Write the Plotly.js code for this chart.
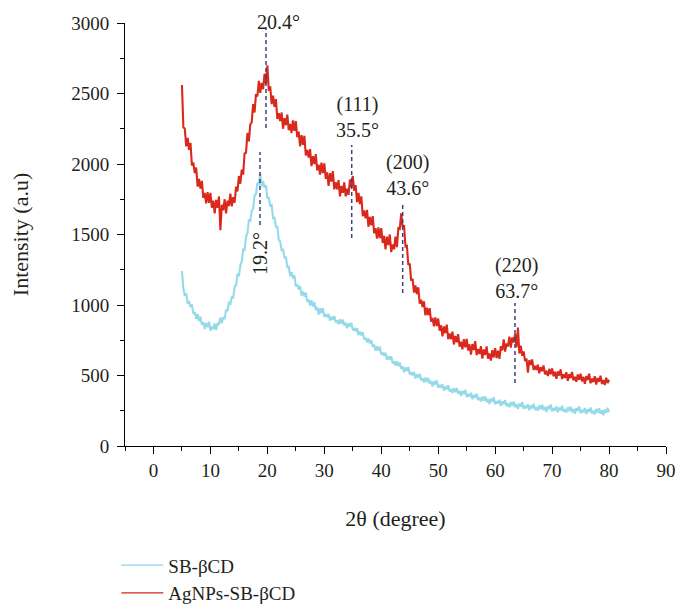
<!DOCTYPE html>
<html>
<head>
<meta charset="utf-8">
<script src="https://cdn.plot.ly/plotly-3.0.1.min.js"></script>
<style>html,body{margin:0;padding:0;background:#fff;}#chart{width:677px;height:607px;}</style>
</head>
<body>
<div id="chart"></div>
<script>
// 2-theta positions (degree)
const twoTheta = [
5,5.25,5.5,5.75,6,6.25,6.5,6.75,7,7.25,7.5,7.75,8,8.25,8.5,8.75,9,9.25,9.5,9.75,
10,10.25,10.5,10.75,11,11.25,11.5,11.75,12,12.25,12.5,12.75,13,13.25,13.5,13.75,14,14.25,14.5,14.75,
15,15.25,15.5,15.75,16,16.25,16.5,16.75,17,17.25,17.5,17.75,18,18.25,18.5,18.75,19,19.25,19.5,19.75,
20,20.25,20.5,20.75,21,21.25,21.5,21.75,22,22.25,22.5,22.75,23,23.25,23.5,23.75,24,24.25,24.5,24.75,
25,25.25,25.5,25.75,26,26.25,26.5,26.75,27,27.25,27.5,27.75,28,28.25,28.5,28.75,29,29.25,29.5,29.75,
30,30.25,30.5,30.75,31,31.25,31.5,31.75,32,32.25,32.5,32.75,33,33.25,33.5,33.75,34,34.25,34.5,34.75,
35,35.25,35.5,35.75,36,36.25,36.5,36.75,37,37.25,37.5,37.75,38,38.25,38.5,38.75,39,39.25,39.5,39.75,
40,40.25,40.5,40.75,41,41.25,41.5,41.75,42,42.25,42.5,42.75,43,43.25,43.5,43.75,44,44.25,44.5,44.75,
45,45.25,45.5,45.75,46,46.25,46.5,46.75,47,47.25,47.5,47.75,48,48.25,48.5,48.75,49,49.25,49.5,49.75,
50,50.25,50.5,50.75,51,51.25,51.5,51.75,52,52.25,52.5,52.75,53,53.25,53.5,53.75,54,54.25,54.5,54.75,
55,55.25,55.5,55.75,56,56.25,56.5,56.75,57,57.25,57.5,57.75,58,58.25,58.5,58.75,59,59.25,59.5,59.75,
60,60.25,60.5,60.75,61,61.25,61.5,61.75,62,62.25,62.5,62.75,63,63.25,63.5,63.75,64,64.25,64.5,64.75,
65,65.25,65.5,65.75,66,66.25,66.5,66.75,67,67.25,67.5,67.75,68,68.25,68.5,68.75,69,69.25,69.5,69.75,
70,70.25,70.5,70.75,71,71.25,71.5,71.75,72,72.25,72.5,72.75,73,73.25,73.5,73.75,74,74.25,74.5,74.75,
75,75.25,75.5,75.75,76,76.25,76.5,76.75,77,77.25,77.5,77.75,78,78.25,78.5,78.75,79,79.25,79.5,79.75,
80];

// SB-βCD intensity (a.u)
const sbBCD = [
1240,1115,1065,1083,1010,1028,985,1005,937,948,902,935,887,918,860,880,829,873,842,881,
818,847,828,869,822,873,860,912,872,913,900,968,957,1023,1002,1060,1047,1130,1140,1223,
1205,1280,1307,1393,1390,1483,1510,1600,1597,1668,1682,1775,1787,1868,1850,1930,1842,1878,1832,1850,
1760,1760,1705,1708,1615,1618,1555,1555,1462,1451,1384,1398,1332,1343,1268,1272,1205,1233,1187,1210,
1133,1145,1110,1133,1066,1096,1060,1088,1023,1038,996,1033,990,1021,964,985,933,976,942,978,
916,934,912,936,889,918,895,922,876,892,864,898,868,896,854,874,836,871,846,874,
820,837,814,836,786,811,784,807,756,767,734,763,728,751,704,719,676,707,678,704,
648,664,640,662,612,638,612,636,587,600,569,600,567,592,547,564,524,558,532,560,
506,524,502,526,479,508,485,512,465,480,451,485,455,483,441,461,423,459,435,465,
413,433,413,439,393,423,402,431,386,403,376,411,382,411,370,391,354,391,368,399,
348,369,350,377,332,363,342,371,326,343,316,351,322,352,312,334,298,336,314,346,
296,318,300,328,284,316,296,326,282,301,275,312,284,315,275,298,262,301,279,312,
263,286,268,297,254,287,268,299,256,275,251,288,261,293,254,277,242,282,261,294,
245,269,252,281,239,272,253,285,242,261,237,274,247,279,240,263,229,268,248,281,
232,256,239,269,226,260,241,273,230,250,225,263,236,268,229,253,218,258,237,271,
240];

// AgNPs-SB-βCD intensity (a.u)
const agnpsSBBCD = [
2560,2260,2250,2125,2185,2100,2150,1990,2010,1935,1975,1840,1895,1825,1880,1760,1795,1720,1800,1725,
1795,1690,1740,1650,1745,1690,1770,1530,1710,1672,1750,1650,1740,1702,1790,1700,1765,1725,1840,1805,
1915,1860,1960,1925,2075,2080,2220,2160,2280,2295,2425,2365,2495,2480,2590,2505,2575,2530,2640,2570,
2700,2520,2550,2425,2485,2405,2460,2320,2360,2305,2365,2250,2325,2275,2350,2240,2285,2220,2310,2235,
2305,2190,2230,2125,2205,2135,2200,2060,2100,2045,2105,1985,2055,2000,2070,1955,1995,1925,2010,1935,
2005,1895,1940,1845,1935,1875,1950,1820,1870,1820,1885,1770,1845,1795,1870,1770,1825,1780,1890,1835,
1915,1810,1850,1730,1795,1715,1770,1630,1670,1615,1675,1555,1625,1565,1630,1510,1545,1470,1550,1475,
1545,1440,1490,1395,1485,1425,1500,1375,1430,1395,1485,1410,1545,1540,1650,1555,1565,1415,1420,1285,
1294,1173,1186,1088,1138,1078,1126,1010,1038,986,1026,927,980,929,978,882,909,848,912,850,
904,818,856,778,848,800,861,758,798,758,811,720,780,736,793,704,739,686,757,700,
759,678,721,648,723,680,744,644,688,652,708,620,685,646,706,619,656,606,680,628,
694,623,676,618,708,678,756,670,728,706,776,697,770,734,793,699,840,656,712,640,
670,603,621,520,609,574,614,540,568,540,577,515,559,530,571,509,533,497,547,508,
550,495,526,476,529,499,544,475,508,483,523,463,509,482,525,465,491,456,507,469,
512,458,490,441,495,467,513,445,478,454,495,436,482,456,499,440,467,433,484,447,
470];

const seriesNames = ["SB-βCD", "AgNPs-SB-βCD"];
const seriesColors = ["#95dae9", "#d9291c"];
const legendColors = ["#8fd4ea", "#d4261c"];

// peak labels
const peakTexts = ["20.4°", "(111)<br>35.5°", "(200)<br>43.6°", "(220)<br>63.7°", "19.2°"];

const serif = "Liberation Serif, Times New Roman, serif";
const ink = "#231f20";

const traces = [
  {x: twoTheta, y: sbBCD, type: "scatter", mode: "lines", name: seriesNames[0], showlegend: false,
   line: {color: seriesColors[0], width: 2.1, simplify: false}},
  {x: twoTheta, y: agnpsSBBCD, type: "scatter", mode: "lines", name: seriesNames[1], showlegend: false,
   line: {color: seriesColors[1], width: 2.1, simplify: false}},
  // legend entries (thin key lines, no marks on the plot)
  {x: [null], y: [null], type: "scatter", mode: "lines", name: seriesNames[0],
   line: {color: legendColors[0], width: 1.2}},
  {x: [null], y: [null], type: "scatter", mode: "lines", name: seriesNames[1],
   line: {color: legendColors[1], width: 1.2}}
];

const dash = {color: "#3f3f80", width: 1.5, dash: "4px,3px"};
const shapes = [
  {type: "line", xref: "x", yref: "y", x0: 19.76, x1: 19.76, y0: 2255, y1: 2972, line: dash},
  {type: "line", xref: "x", yref: "y", x0: 18.70, x1: 18.70, y0: 1567, y1: 2085, line: dash},
  {type: "line", xref: "x", yref: "y", x0: 34.81, x1: 34.81, y0: 1475, y1: 2135, line: dash},
  {type: "line", xref: "x", yref: "y", x0: 43.76, x1: 43.76, y0: 1085, y1: 1723, line: dash},
  {type: "line", xref: "x", yref: "y", x0: 63.48, x1: 63.48, y0: 447, y1: 1014, line: dash}
];

const annFont = {family: serif, size: 20, color: ink};
const annotations = [
  {xref: "x", yref: "y", x: 21.87, y: 3000, yshift: 1, text: peakTexts[0], showarrow: false, font: annFont},
  {xref: "x", yref: "y", x: 35.74, y: 2330, text: peakTexts[1], showarrow: false, font: annFont},
  {xref: "x", yref: "y", x: 44.52, y: 1925, text: peakTexts[2], showarrow: false, font: annFont},
  {xref: "x", yref: "y", x: 63.66, y: 1195, text: peakTexts[3], showarrow: false, font: annFont},
  {xref: "x", yref: "y", x: 18.70, y: 1369, text: peakTexts[4], textangle: -90, showarrow: false, font: annFont}
];

const axisCommon = {
  showline: true, linecolor: "#000", linewidth: 1, showgrid: false, zeroline: false,
  ticks: "outside", ticklen: 7, tickwidth: 1, tickcolor: "#000",
  tickfont: {family: serif, size: 19, color: ink},
  minor: {ticks: "outside", ticklen: 4, tickwidth: 1, tickcolor: "#000", showgrid: false}
};

const layout = {
  width: 677, height: 607,
  margin: {l: 125, r: 11, t: 23, b: 161, autoexpand: false},
  paper_bgcolor: "#fff", plot_bgcolor: "#fff",
  showlegend: true,
  legend: {x: -0.016, xanchor: "left", y: -0.237, yanchor: "top", orientation: "v",
           font: {family: serif, size: 19, color: ink}, bgcolor: "rgba(0,0,0,0)", itemwidth: 42},
  xaxis: Object.assign({}, axisCommon, {
    range: [-5, 90], tick0: 0, dtick: 10, minor: Object.assign({}, axisCommon.minor, {dtick: 5}),
    title: {text: "2θ (degree)", font: {family: serif, size: 22, color: ink}, standoff: 30}
  }),
  yaxis: Object.assign({}, axisCommon, {
    range: [0, 3000], tick0: 0, dtick: 500, ticklabelstandoff: 4,
    minor: Object.assign({}, axisCommon.minor, {dtick: 250}),
    title: {text: "Intensity (a.u)", font: {family: serif, size: 22, color: ink}, standoff: 36}
  }),
  shapes: shapes,
  annotations: annotations
};

Plotly.newPlot("chart", traces, layout, {displayModeBar: false, staticPlot: true});
</script>
</body>
</html>
